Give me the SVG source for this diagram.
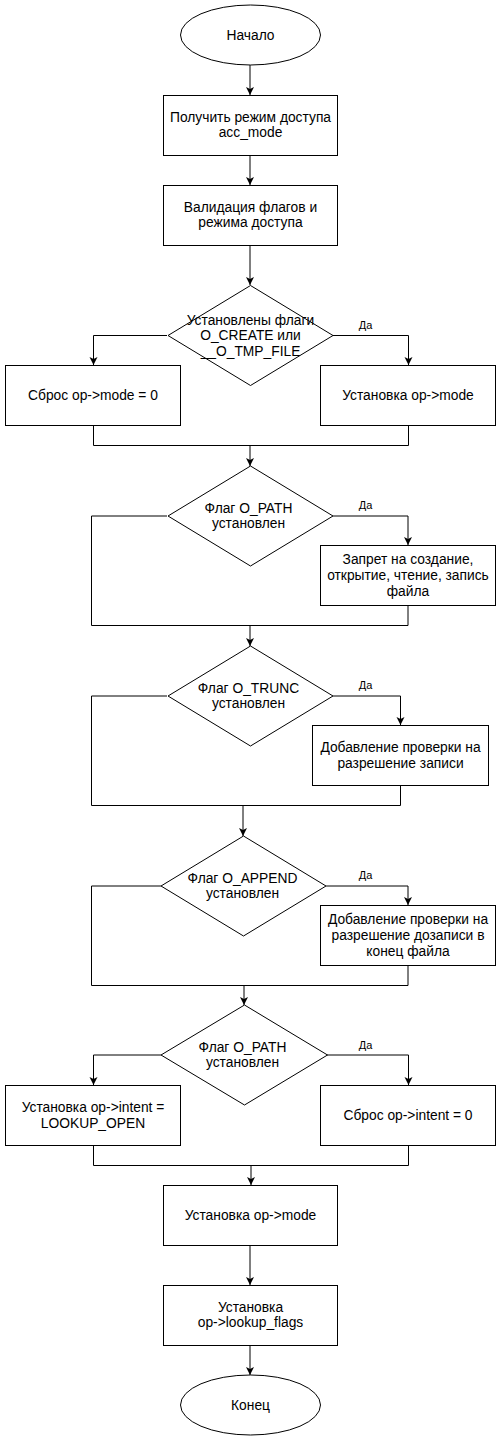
<svg xmlns="http://www.w3.org/2000/svg" width="501" height="1441" viewBox="0 0 501 1441">
  <style>
    .shape { fill: #ffffff; stroke: #000000; stroke-width: 1; }
    .edge { fill: none; stroke: #000000; stroke-width: 1; }
    .label { font-family: "Liberation Sans", Arial, sans-serif; font-size: 13.8px; fill: #000000; text-anchor: middle; }
    .yes { font-family: "Liberation Sans", Arial, sans-serif; font-size: 11px; fill: #000000; text-anchor: middle; }
  </style>
  <defs>
    <marker id="arrow" markerUnits="userSpaceOnUse" markerWidth="9" markerHeight="9" refX="8" refY="4" orient="auto">
      <path d="M0,0 L8,4 L0,8 L2,4 Z" fill="#000000"/>
    </marker>
  </defs>
  <rect width="501" height="1441" fill="#ffffff"/>

  <!-- connectors -->
  <g id="connectors">
    <path class="edge" d="M250,65 V95" marker-end="url(#arrow)"/>
    <path class="edge" d="M250,155 V185" marker-end="url(#arrow)"/>
    <path class="edge" d="M250,245 V285" marker-end="url(#arrow)"/>
    <path class="edge" d="M167,335.5 H93.5 V365" marker-end="url(#arrow)"/>
    <path class="edge" d="M333,335.5 H408.5 V365" marker-end="url(#arrow)"/>
    <path class="edge" d="M93.5,425 V445.5 H408.5 V425"/>
    <path class="edge" d="M250,445.5 V466" marker-end="url(#arrow)"/>

    <path class="edge" d="M333,516 H408 V545" marker-end="url(#arrow)"/>
    <path class="edge" d="M167,516 H91.5 V625.5 H408 V605"/>
    <path class="edge" d="M250,625.5 V646" marker-end="url(#arrow)"/>

    <path class="edge" d="M333,696 H400.5 V725" marker-end="url(#arrow)"/>
    <path class="edge" d="M167,696 H91.5 V805.5 H400.5 V785"/>
    <path class="edge" d="M243,805.5 V836" marker-end="url(#arrow)"/>

    <path class="edge" d="M326,886 H408 V905" marker-end="url(#arrow)"/>
    <path class="edge" d="M161,886 H91.5 V985.5 H408 V965"/>
    <path class="edge" d="M244,985.5 V1005" marker-end="url(#arrow)"/>

    <path class="edge" d="M161,1055 H93.5 V1085" marker-end="url(#arrow)"/>
    <path class="edge" d="M327,1055 H408.5 V1085" marker-end="url(#arrow)"/>
    <path class="edge" d="M93.5,1145 V1165.5 H408.5 V1145"/>
    <path class="edge" d="M251,1165.5 V1185" marker-end="url(#arrow)"/>
    <path class="edge" d="M250,1245 V1285" marker-end="url(#arrow)"/>
    <path class="edge" d="M250,1345 V1375" marker-end="url(#arrow)"/>

    <text class="yes" x="365.5" y="329">Да</text>
    <text class="yes" x="365.5" y="509">Да</text>
    <text class="yes" x="365.5" y="689">Да</text>
    <text class="yes" x="365.5" y="879">Да</text>
    <text class="yes" x="365.5" y="1049">Да</text>
  </g>

  <g id="start">
    <ellipse class="shape" cx="250.5" cy="35" rx="70" ry="30"/>
    <text class="label" x="250.5" y="39.8">Начало</text>
  </g>

  <g id="get-acc-mode">
    <rect class="shape" x="163.5" y="95.5" width="174" height="60"/>
    <text class="label" x="250.5" y="121.8"><tspan x="250.5">Получить режим доступа</tspan><tspan x="250.5" dy="15.6">acc_mode</tspan></text>
  </g>

  <g id="validate">
    <rect class="shape" x="163.5" y="185.5" width="174" height="60"/>
    <text class="label" x="250.5" y="211.8"><tspan x="250.5">Валидация флагов и</tspan><tspan x="250.5" dy="15.6">режима доступа</tspan></text>
  </g>

  <g id="check-create">
    <polygon class="shape" points="250.5,285.5 333,335.5 250.5,385.5 168,335.5"/>
    <text class="label" x="250.5" y="324.8"><tspan x="250.5">Установлены флаги</tspan><tspan x="250.5" dy="15.5">O_CREATE или</tspan><tspan x="250.5" dy="15.5">__O_TMP_FILE</tspan></text>
  </g>

  <g id="reset-mode">
    <rect class="shape" x="5.5" y="365.5" width="175" height="60"/>
    <text class="label" x="93" y="400.3">Сброс op-&gt;mode = 0</text>
  </g>

  <g id="set-mode-1">
    <rect class="shape" x="320.5" y="365.5" width="175" height="60"/>
    <text class="label" x="408" y="400.3">Установка op-&gt;mode</text>
  </g>

  <g id="check-path-1">
    <polygon class="shape" points="250.5,466 333,516 250.5,566 168,516"/>
    <text class="label" x="248.5" y="512.8"><tspan x="248.5">Флаг O_PATH</tspan><tspan x="248.5" dy="15.6">установлен</tspan></text>
  </g>

  <g id="deny-access">
    <rect class="shape" x="320.5" y="545.5" width="175" height="60"/>
    <text class="label" x="408" y="564.3"><tspan x="408">Запрет на создание,</tspan><tspan x="408" dy="15.6">открытие, чтение, запись</tspan><tspan x="408" dy="15.6">файла</tspan></text>
  </g>

  <g id="check-trunc">
    <polygon class="shape" points="250.5,646 333,696 250.5,746 168,696"/>
    <text class="label" x="248.5" y="692.8"><tspan x="248.5">Флаг O_TRUNC</tspan><tspan x="248.5" dy="15.6">установлен</tspan></text>
  </g>

  <g id="check-write">
    <rect class="shape" x="312.5" y="725.5" width="176" height="60"/>
    <text class="label" x="400.5" y="752.3"><tspan x="400.5">Добавление проверки на</tspan><tspan x="400.5" dy="15.6">разрешение записи</tspan></text>
  </g>

  <g id="check-append">
    <polygon class="shape" points="243.5,836 326,886 243.5,936 161,886"/>
    <text class="label" x="242.5" y="882.8"><tspan x="242.5">Флаг O_APPEND</tspan><tspan x="242.5" dy="15.6">установлен</tspan></text>
  </g>

  <g id="check-append-perm">
    <rect class="shape" x="320.5" y="905.5" width="175" height="60"/>
    <text class="label" x="408" y="924.3"><tspan x="408">Добавление проверки на</tspan><tspan x="408" dy="15.6">разрешение дозаписи в</tspan><tspan x="408" dy="15.6">конец файла</tspan></text>
  </g>

  <g id="check-path-2">
    <polygon class="shape" points="244.5,1005 327.5,1055 244.5,1105 161,1055"/>
    <text class="label" x="242.5" y="1051.8"><tspan x="242.5">Флаг O_PATH</tspan><tspan x="242.5" dy="15.6">установлен</tspan></text>
  </g>

  <g id="set-intent">
    <rect class="shape" x="5.5" y="1085.5" width="175" height="60"/>
    <text class="label" x="93" y="1112.3"><tspan x="93">Установка op-&gt;intent =</tspan><tspan x="93" dy="15.6">LOOKUP_OPEN</tspan></text>
  </g>

  <g id="reset-intent">
    <rect class="shape" x="320.5" y="1085.5" width="175" height="60"/>
    <text class="label" x="408" y="1120.3">Сброс op-&gt;intent = 0</text>
  </g>

  <g id="set-mode-2">
    <rect class="shape" x="163.5" y="1185.5" width="174" height="60"/>
    <text class="label" x="250.5" y="1220.3">Установка op-&gt;mode</text>
  </g>

  <g id="set-lookup-flags">
    <rect class="shape" x="163.5" y="1285.5" width="174" height="60"/>
    <text class="label" x="250.5" y="1311.8"><tspan x="250.5">Установка</tspan><tspan x="250.5" dy="15.6">op-&gt;lookup_flags</tspan></text>
  </g>

  <g id="end">
    <ellipse class="shape" cx="250.5" cy="1405" rx="70" ry="30"/>
    <text class="label" x="250.5" y="1409.8">Конец</text>
  </g>
</svg>
